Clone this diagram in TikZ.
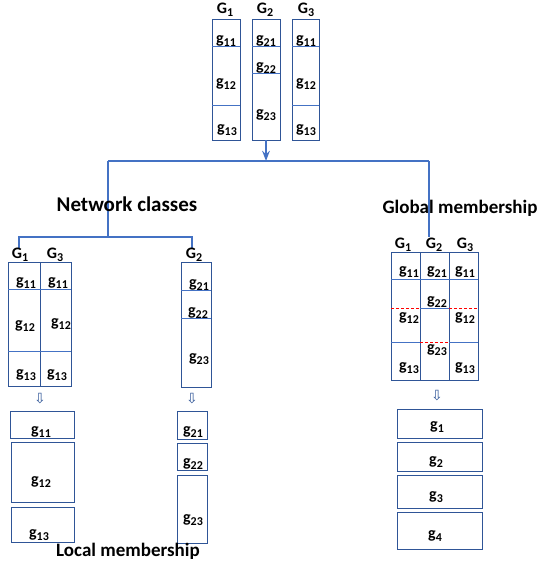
\documentclass[tikz,border=0pt]{standalone}
\usepackage{fontspec}
\setmainfont{Carlito}
\newfontfamily\symfont{DejaVu Sans}
\usetikzlibrary{arrows.meta}
\definecolor{boxblue}{HTML}{2F5597}
\definecolor{linkblue}{HTML}{4472C4}
\newcommand{\lab}[2]{#1\raisebox{-.45ex}{\fontsize{12}{13}\selectfont #2}}

\tikzset{
  box/.style={draw=boxblue,line width=0.8pt},
  sep/.style={draw=linkblue,line width=0.8pt},
  cut/.style={draw=red,line width=0.8pt,dash pattern=on 3pt off 2pt},
  link/.style={draw=linkblue,line width=1.6pt},
  title/.style={font=\bfseries\fontsize{19}{22}\selectfont},
  down/.style={text=boxblue,font=\symfont\fontsize{14}{14}\selectfont,inner sep=0pt}
}

\begin{document}
\begin{tikzpicture}[x=1pt,y=-1pt,>=Stealth,font=\bfseries\fontsize{16}{18}\selectfont]
\useasboundingbox (0,0) rectangle (539,563);

% input partitions
\draw[box] (212,19) rectangle (240,140);
\draw[sep] (212,46) -- (240,46) (212,105) -- (240,105);
\draw[box] (252,19) rectangle (280,140);
\draw[sep] (252,46) -- (280,46) (252,73) -- (280,73);
\draw[box] (292,19) rectangle (319,140);
\draw[sep] (292,46) -- (319,46) (292,105) -- (319,105);
\node (tG1) at (225,10) {\lab{G}{1}};
\node (tG2) at (265,10) {\lab{G}{2}};
\node (tG3) at (306,10) {\lab{G}{3}};
\node (t11) at (226,41) {\lab{g}{11}};
\node (t12) at (226,84) {\lab{g}{12}};
\node (t13) at (227,130) {\lab{g}{13}};
\node (t21) at (266,41) {\lab{g}{21}};
\node (t22) at (266,68) {\lab{g}{22}};
\node (t23) at (266,115) {\lab{g}{23}};
\node (t31) at (306,41) {\lab{g}{11}};
\node (t32) at (306,84) {\lab{g}{12}};
\node (t33) at (306,130) {\lab{g}{13}};

% tree
\coordinate (top) at (266,140);
\coordinate (hub) at (266,161);
\coordinate (hl) at (108,161);
\coordinate (hr) at (429,161);
\coordinate (nl) at (108,237);
\coordinate (nr) at (429,237);
\coordinate (a1) at (19,248);
\coordinate (a2) at (192,248);
\draw[link,->] (top) -- (hub);
\draw[link] (hl) -- (hr);
\draw[link] (hl) -- (nl);
\draw[link] (a1) |- (nl) -| (a2);
\node[title,font=\bfseries\fontsize{21}{24}\selectfont] (net) at (127,204) {Network classes};
\node[title] (glob) at (460,208) {Global membership};
\draw[link] (hr) -- (nr);

% network classes
\draw[box] (8,262) rectangle (40,386);
\draw[box] (40,262) rectangle (71,386);
\draw[sep] (8,289) -- (71,289) (8,351) -- (71,351);
\draw[box] (181,262) rectangle (211,387);
\draw[sep] (181,290) -- (211,290) (181,318) -- (211,318);
\node (cG1) at (20,255) {\lab{G}{1}};
\node (cG3) at (55,255) {\lab{G}{3}};
\node (cG2) at (194,255) {\lab{G}{2}};
\node (c11) at (26,283) {\lab{g}{11}};
\node (c12) at (25,326) {\lab{g}{12}};
\node (c13) at (26,375) {\lab{g}{13}};
\node (c31) at (58,283) {\lab{g}{11}};
\node (c32) at (61,324) {\lab{g}{12}};
\node (c33) at (57,375) {\lab{g}{13}};
\node (c21) at (199,285) {\lab{g}{21}};
\node (c22) at (198,313) {\lab{g}{22}};
\node (c23) at (199,359) {\lab{g}{23}};
\node[down] (dl) at (40,399) {⇩};
\node[down] (dr) at (192,399) {⇩};

% local membership
\draw[box] (10,411) rectangle (74,438);
\draw[box] (11,442) rectangle (74,502);
\draw[box] (11,507) rectangle (74,542);
\draw[box] (177,411) rectangle (207,439);
\draw[box] (177,443) rectangle (207,470);
\draw[box] (177,475) rectangle (207,543);
\node (l11) at (41,432) {\lab{g}{11}};
\node (l12) at (41,482) {\lab{g}{12}};
\node (l13) at (39,535) {\lab{g}{13}};
\node (l21) at (193,432) {\lab{g}{21}};
\node (l22) at (193,464) {\lab{g}{22}};
\node (l23) at (193,520) {\lab{g}{23}};
\node[title] (loc) at (128,551) {Local membership};

% global membership
\draw[box] (391,252) rectangle (420,380);
\draw[box] (420,252) rectangle (449,380);
\draw[box] (449,252) rectangle (478,380);
\draw[sep] (391,279) -- (478,279);
\draw[cut] (391,308) -- (420,308);
\draw[sep] (391,342) -- (420,342);
\draw[sep] (420,308) -- (449,308);
\draw[cut] (420,342) -- (449,342);
\draw[cut] (449,308) -- (478,308);
\draw[sep] (449,342) -- (478,342);
\node (gG1) at (403,245) {\lab{G}{1}};
\node (gG2) at (434,245) {\lab{G}{2}};
\node (gG3) at (465,245) {\lab{G}{3}};
\node (g11) at (409,272) {\lab{g}{11}};
\node (g21) at (437,272) {\lab{g}{21}};
\node (g31) at (465,272) {\lab{g}{11}};
\node (g22) at (437,302) {\lab{g}{22}};
\node (g12) at (409,318) {\lab{g}{12}};
\node (g32) at (465,318) {\lab{g}{12}};
\node (g23) at (437,350) {\lab{g}{23}};
\node (g13) at (409,368) {\lab{g}{13}};
\node (g33) at (465,368) {\lab{g}{13}};
\node[down] (dg) at (437,396) {⇩};
\draw[box] (397,409) rectangle (482,438);
\draw[box] (397,442) rectangle (482,471);
\draw[box] (397,475) rectangle (482,508);
\draw[box] (397,512) rectangle (482,549);
\node (m1) at (437,427) {\lab{g}{1}};
\node (m2) at (436,462) {\lab{g}{2}};
\node (m3) at (436,497) {\lab{g}{3}};
\node (m4) at (435,536) {\lab{g}{4}};
\end{tikzpicture}
\end{document}
